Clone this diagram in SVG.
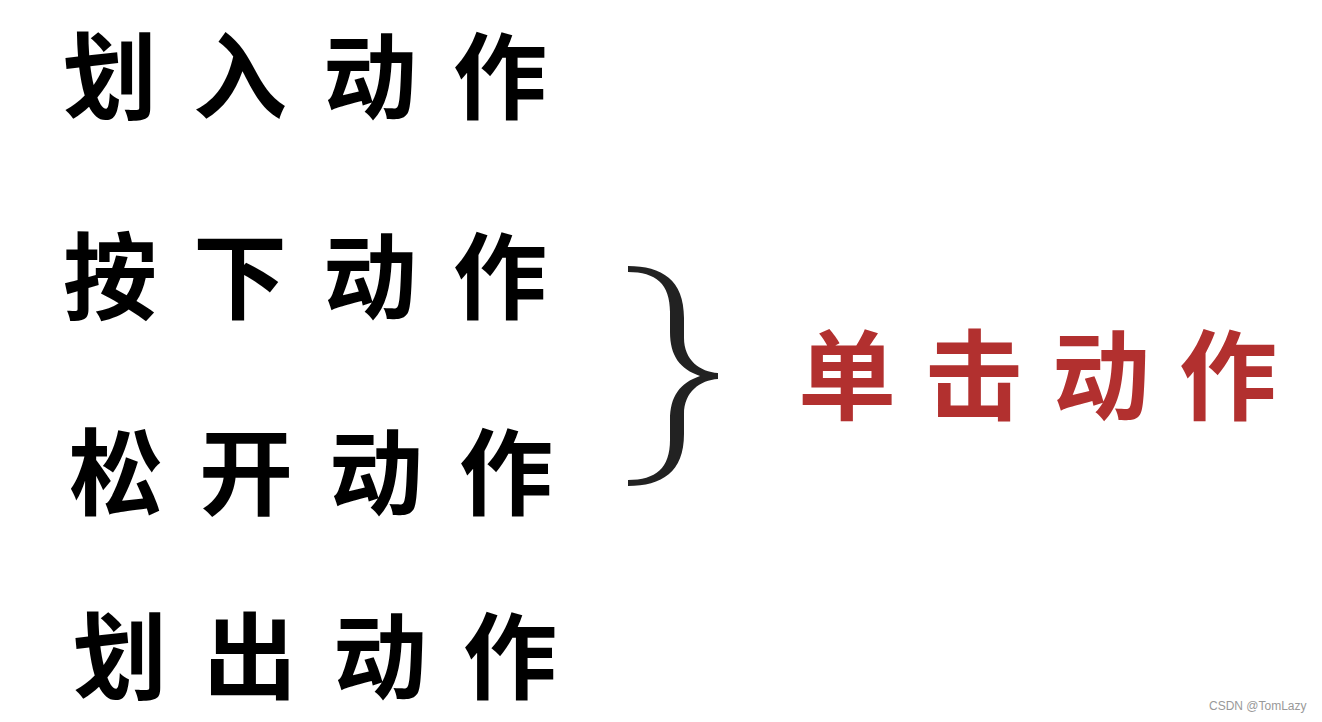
<svg xmlns="http://www.w3.org/2000/svg" width="1322" height="722" viewBox="0 0 1322 722">
<style>
.t{font-family:"Noto Sans CJK SC","Noto Sans CJK JP",sans-serif;font-weight:700;font-size:94px;letter-spacing:36px;fill:#000}
.r{font-family:"Noto Sans CJK SC","Noto Sans CJK JP",sans-serif;font-weight:700;font-size:98px;letter-spacing:29px;fill:#b2302f}
.w{font-family:"Liberation Sans",Arial,sans-serif;font-size:12px;fill:#999}
</style>
<rect width="1322" height="722" fill="#fff"/>
<g id="n1"><text class="t" x="63" y="112">划入动作</text></g>
<g id="n2"><text class="t" x="63" y="312">按下动作</text></g>
<g id="n3"><text class="t" x="69" y="508">松开动作</text></g>
<g id="n4"><text class="t" x="73" y="692">划出动作</text></g>
<g id="connectors">
<path d="M628,266 C662,266 684,280 684,318 L684,338 C684,360 700,372 718,373 L718,379 C700,380 684,392 684,414 L684,434 C684,472 662,486 628,486 L628,480 C656,480 670,468 670,440 L670,420 C670,396 680,383 700,376 C680,369 670,356 670,332 L670,312 C670,284 656,272 628,272 Z" fill="#222"/>
</g>
<g id="n5"><text class="r" x="798" y="412">单击动作</text></g>
<text class="w" x="1209" y="710">CSDN @TomLazy</text>
</svg>
